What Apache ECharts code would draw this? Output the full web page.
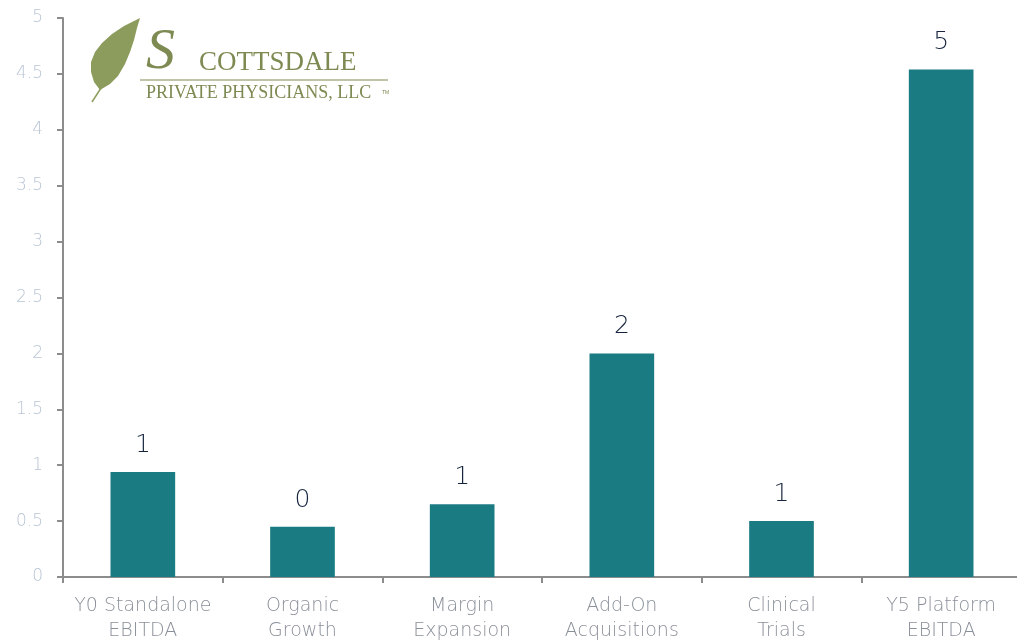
<!DOCTYPE html>
<html><head><meta charset="utf-8">
<script src="https://cdn.jsdelivr.net/npm/echarts@6/dist/echarts.min.js"></script>
<style>html,body{margin:0;padding:0;background:#fff}#c{width:1017px;height:641px}</style>
</head><body><div id="c"></div>
<script>
const categories = ['Y0 Standalone\nEBITDA','Organic\nGrowth','Margin\nExpansion','Add-On\nAcquisitions','Clinical\nTrials','Y5 Platform\nEBITDA'];
const values = [0.94, 0.45, 0.65, 2.0, 0.5, 4.54];
const yTicks = ['0','0.5','1','1.5','2','2.5','3','3.5','4','4.5','5'];

const FONT = '"DejaVu Sans ExtraLight", "DejaVu Sans", sans-serif';
const chart = echarts.init(document.getElementById('c'));
chart.setOption({
  animation: false,
  grid: {left: 63, width: 958, top: 18, height: 559, containLabel: false, outerBoundsMode: 'none'},
  xAxis: {
    type: 'category', data: categories,
    axisLine: {lineStyle: {color: '#8c8c8c', width: 2}},
    axisTick: {show: true, length: 6, lineStyle: {color: '#8c8c8c', width: 2}},
    axisLabel: {color: '#8a9099', fontSize: 19, fontFamily: FONT, fontWeight: 200, lineHeight: 25, margin: 17, interval: 0}
  },
  yAxis: {
    type: 'value', min: 0, max: 5, interval: 0.5,
    splitLine: {show: false},
    axisLine: {show: true, lineStyle: {color: '#8c8c8c', width: 2}},
    axisTick: {show: true, length: 6, lineStyle: {color: '#8c8c8c', width: 2}},
    axisLabel: {color: '#b9c5d3', fontSize: 17, fontFamily: FONT, fontWeight: 200, margin: 20,
      formatter: v => yTicks[Math.round(v*2)] }
  },
  series: [{
    type: 'bar', data: values, barWidth: '40.5%',
    itemStyle: {color: '#1b7b82'},
    label: {show: true, position: 'top', distance: 14, color: '#16253d', fontSize: 25, fontFamily: FONT, fontWeight: 200,
      formatter: p => String(Math.round(p.value))}
  }],
  graphic: [
    {type: 'polygon', shape: {points: [[100,90],[94,82],[91,72],[91,62],[95,52],[102,43],[112,34],[124,26],[140,18],[137,28],[134,40],[130,52],[125,64],[118,76],[110,84],[100,90]]},
     style: {fill: '#8c9c5c'}},
    {type: 'line', shape: {x1: 92, y1: 102, x2: 101, y2: 88}, style: {stroke: '#8c9c5c', lineWidth: 1.5}},
    {type: 'text', left: 146, top: 24, style: {text: 'S', font: 'italic 58px "Liberation Serif", serif', fill: '#7d8a52'}},
    {type: 'text', left: 199, top: 49, style: {text: 'COTTSDALE', font: '27px "Liberation Serif", serif', fill: '#7d8a52'}},
    {type: 'line', shape: {x1: 140, y1: 80, x2: 388, y2: 80}, style: {stroke: '#7d8a52', lineWidth: 1}},
    {type: 'text', left: 146, top: 84, style: {text: 'PRIVATE PHYSICIANS, LLC', font: '18px "Liberation Serif", serif', fill: '#7d8a52'}},
    {type: 'text', left: 382, top: 90, style: {text: 'TM', font: '5px sans-serif', fill: '#7d8a52'}}
  ]
});
</script></body></html>
